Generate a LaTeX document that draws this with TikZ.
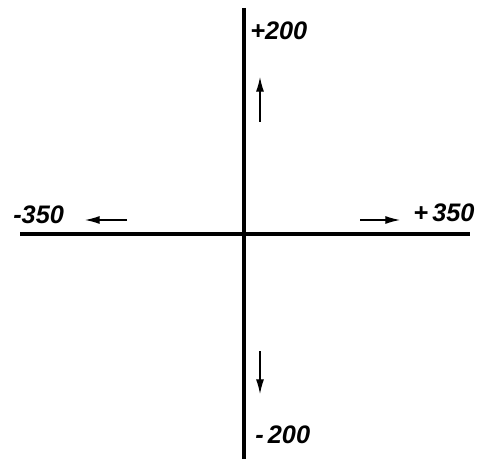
\documentclass[tikz,border=0pt]{standalone}
\usepackage{fontspec}
\setmainfont{Liberation Sans}
\usetikzlibrary{arrows.meta}
\tikzset{
  axis/.style={line width=2.4pt},
  move/.style={line width=0.9pt,-{Latex[length=11pt,width=6pt]}},
  value/.style={font=\bfseries\itshape\fontsize{19}{19}\selectfont,inner sep=0pt}
}
\begin{document}
\begin{tikzpicture}[x=0.75pt,y=-0.75pt]
\useasboundingbox (0,0) rectangle (485,459);
% axes
\coordinate (T) at (244,8);
\coordinate (B) at (244,459);
\coordinate (L) at (20,234);
\coordinate (R) at (470,234);
\draw [axis] (T) -- (B);
\draw [axis] (L) -- (R);
% arrows
\coordinate (U1) at (260,122);
\coordinate (U2) at (260,77);
\draw [move] (U1) -- (U2);
\coordinate (D1) at (260,351);
\coordinate (D2) at (260,394);
\draw [move] (D1) -- (D2);
\coordinate (L1) at (127,220);
\coordinate (L2) at (85,220);
\draw [move] (L1) -- (L2);
\coordinate (R1) at (360,220);
\coordinate (R2) at (400,220);
\draw [move] (R1) -- (R2);
% labels
\node [value,anchor=west] (top) at (250,31) {+200};
\node [value,anchor=west] (left) at (13,215) {-350};
\node [value,anchor=west] (right) at (413,213) {+\,350};
\node [value,anchor=west] (bottom) at (255,435) {-\,200};
\end{tikzpicture}
\end{document}
